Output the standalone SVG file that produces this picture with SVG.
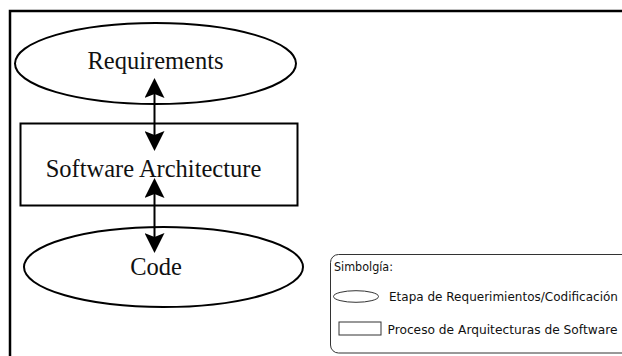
<svg xmlns="http://www.w3.org/2000/svg" width="622" height="356" viewBox="0 0 622 356">
  <style>
    .node { fill: none; stroke: #000; stroke-width: 2; }
    .label { font-family: "Liberation Serif", "Times New Roman", serif; font-size: 24.5px; fill: #111; text-anchor: middle; }
    .link { stroke: #000; stroke-width: 2; fill: none; marker-start: url(#head); marker-end: url(#head); }
    .legend-box { fill: none; stroke: #333; stroke-width: 1; }
    .legend-text { font-family: "DejaVu Sans", "Verdana", sans-serif; font-size: 11.7px; fill: #111; }
  </style>
  <defs>
    <marker id="head" markerUnits="userSpaceOnUse" viewBox="0 0 20 20" markerWidth="20" markerHeight="20" refX="16" refY="10" orient="auto-start-reverse">
      <path d="M0,0 L20,10 L0,20 L4,10 Z" fill="#000"/>
    </marker>
  </defs>

  <rect width="622" height="356" fill="#fff"/>

  <!-- outer frame, open to the right and bottom -->
  <path d="M10,356 V11 H622" fill="none" stroke="#000" stroke-width="2.5"/>

  <g id="requirements">
    <ellipse class="node" cx="155.5" cy="63.5" rx="140.5" ry="40.5"/>
    <text class="label" x="155.5" y="69">Requirements</text>
  </g>

  <g id="software-architecture">
    <rect class="node" x="20.5" y="123.5" width="277" height="82"/>
    <text class="label" x="153.5" y="177">Software Architecture</text>
  </g>

  <g id="code">
    <ellipse class="node" cx="163.5" cy="267" rx="139.5" ry="40"/>
    <text class="label" x="156" y="275">Code</text>
  </g>

  <g id="connectors">
    <line class="link" x1="154.5" y1="82" x2="154.5" y2="147"/>
    <line class="link" x1="154.5" y1="182" x2="154.5" y2="249"/>
  </g>

  <g id="legend">
    <rect class="legend-box" x="330.5" y="254.5" width="310" height="98.5" rx="8" ry="8"/>
    <text class="legend-text" x="334" y="270.5" textLength="59" lengthAdjust="spacingAndGlyphs">Simbolgía:</text>
    <ellipse class="legend-box" cx="356" cy="296.5" rx="22.5" ry="5.8"/>
    <text class="legend-text" x="389" y="301" textLength="229" lengthAdjust="spacingAndGlyphs">Etapa de Requerimientos/Codificación</text>
    <rect class="legend-box" x="339" y="322" width="42" height="13"/>
    <text class="legend-text" x="387.5" y="334" textLength="230" lengthAdjust="spacingAndGlyphs">Proceso de Arquitecturas de Software</text>
  </g>
</svg>
